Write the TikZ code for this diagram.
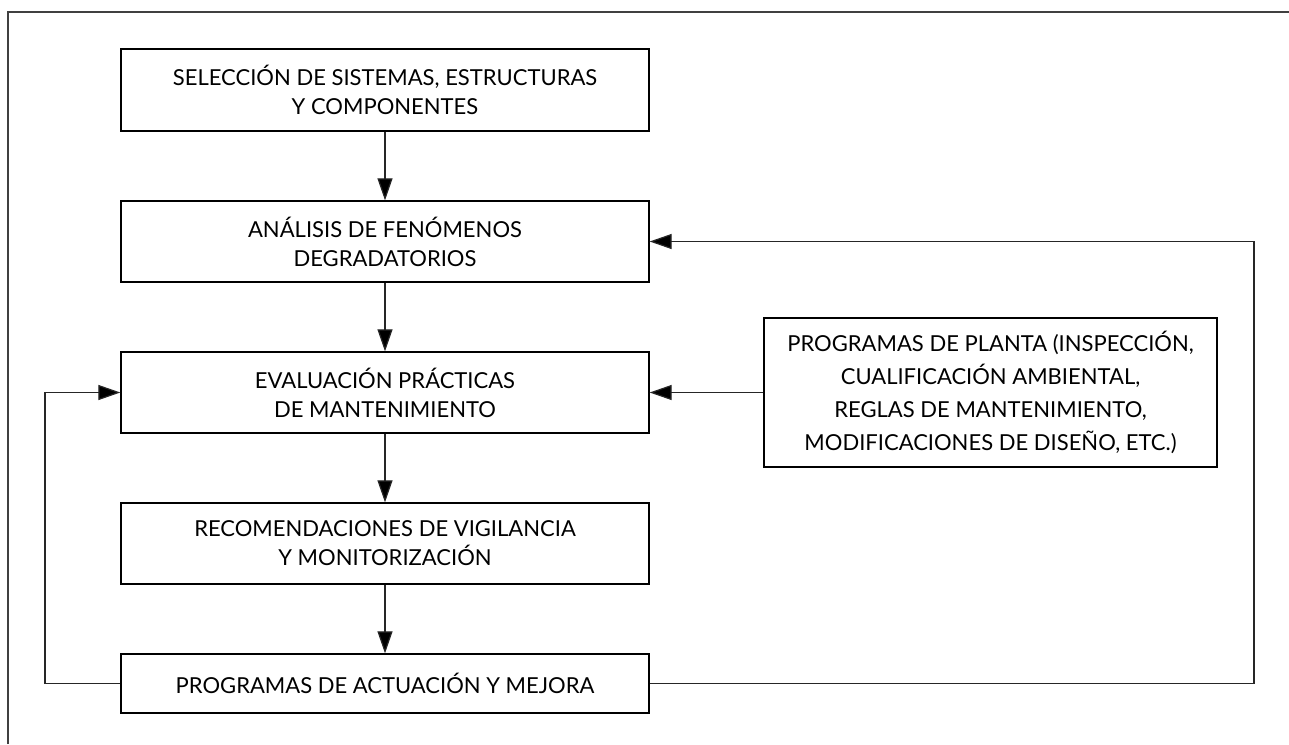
\documentclass[tikz,border=0pt]{standalone}
\usepackage{fontspec}
\setmainfont{Lato}
\usetikzlibrary{arrows.meta}
\begin{document}
\begin{tikzpicture}[x=1pt,y=-1pt,
  box/.style={draw=black,line width=1.3pt,align=center,inner sep=0pt,font=\fontsize{22}{29}\selectfont},
  conn/.style={line width=1.2pt,draw=black!85,-{Triangle[length=22pt,width=15pt,fill=black]}},
  line/.style={line width=1.2pt,draw=black!85}]
\useasboundingbox (0,0) rectangle (1289,744);
\draw[line width=1.3pt,draw=black!75] (8,744) -- (8,12) -- (1289,12);
\node[box,minimum width=528pt,minimum height=82pt] (b1) at (385,90) {SELECCIÓN DE SISTEMAS, ESTRUCTURAS\\Y COMPONENTES};
\node[box,minimum width=528pt,minimum height=81pt] (b2) at (385,241.5) {ANÁLISIS DE FENÓMENOS\\DEGRADATORIOS};
\node[box,minimum width=528pt,minimum height=81pt] (b3) at (385,392.5) {EVALUACIÓN PRÁCTICAS\\DE MANTENIMIENTO};
\node[box,minimum width=528pt,minimum height=81pt] (b4) at (385,543.5) {RECOMENDACIONES DE VIGILANCIA\\Y MONITORIZACIÓN};
\node[box,minimum width=528pt,minimum height=59pt] (b5) at (385,683.5) {PROGRAMAS DE ACTUACIÓN Y MEJORA};
\node[box,minimum width=453pt,minimum height=149pt,font=\fontsize{22}{33}\selectfont] (r) at (990.5,392.5) {PROGRAMAS DE PLANTA (INSPECCIÓN,\\CUALIFICACIÓN AMBIENTAL,\\REGLAS DE MANTENIMIENTO,\\MODIFICACIONES DE DISEÑO, ETC.)};
\draw[conn] (b1) -- (b2);
\draw[conn] (b2) -- (b3);
\draw[conn] (b3) -- (b4);
\draw[conn] (b4) -- (b5);
\draw[conn] (r) -- (b3);
\coordinate (lc) at (45,683.5);
\coordinate (rc) at (1254,683.5);
\draw[conn] (b5.west) -- (lc) |- (b3.west);
\draw[conn] (b5.east) -- (rc) |- (b2.east);
\end{tikzpicture}
\end{document}
